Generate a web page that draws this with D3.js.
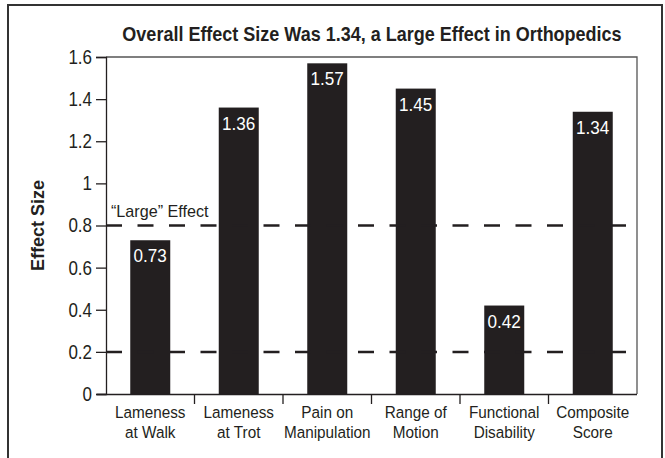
<!DOCTYPE html>
<html>
<head>
<meta charset="utf-8">
<script src="https://cdn.jsdelivr.net/npm/d3@7"></script>
<style>
  body { margin: 0; background: #fff; }
  #chart { width: 665px; height: 458px; }
  text { font-family: "Liberation Sans", Arial, sans-serif; fill: #231f20; }
</style>
</head>
<body>
<div id="chart"></div>
<script>
// chart values
const categories = ["Lameness\nat Walk", "Lameness\nat Trot", "Pain on\nManipulation", "Range of\nMotion", "Functional\nDisability", "Composite\nScore"];
const effectSizes = [0.73, 1.36, 1.57, 1.45, 0.42, 1.34];
const yTicks = [0, 0.2, 0.4, 0.6, 0.8, 1, 1.2, 1.4, 1.6];
const refLines = [0.8, 0.2];

const width = 665;
const height = 458;
const margin = { top: 57, left: 106, right: 28, bottom: 64 };
const ink = "#231f20";

// squeeze text horizontally around its anchor point (no condensed font installed)
function condense(sel, k) {
  sel.attr("transform", function() {
    const x = +d3.select(this).attr("x") || 0;
    const prev = d3.select(this).attr("transform") || "";
    return `${prev} translate(${x * (1 - k)},0) scale(${k},1)`;
  });
}

const svg = d3.select("#chart")
  .append("svg")
  .attr("width", width)
  .attr("height", height);

// outer frame
svg.append("rect")
  .attr("x", 8)
  .attr("y", 5)
  .attr("width", 654)
  .attr("height", 456)
  .attr("fill", "none")
  .attr("stroke", "#333")
  .attr("stroke-width", 2);

const xScale = d3.scaleBand()
  .domain(categories)
  .range([margin.left, width - margin.right])
  .paddingInner(0.548)
  .paddingOuter(0.274);

const yScale = d3.scaleLinear()
  .domain([0, 1.6])
  .range([height - margin.bottom, margin.top]);

// plot box top and right edges
svg.append("path")
  .attr("d", `M${margin.left},${margin.top}H${width - margin.right}V${height - margin.bottom}`)
  .attr("fill", "none")
  .attr("stroke", "#555")
  .attr("stroke-width", 1.3);

// bars
svg.selectAll("rect.bar")
  .data(effectSizes)
  .enter()
  .append("rect")
  .attr("class", "bar")
  .attr("x", function(d, i) {
    return xScale(categories[i]);
  })
  .attr("y", function(d) {
    return yScale(d);
  })
  .attr("width", xScale.bandwidth())
  .attr("height", function(d) {
    return yScale(0) - yScale(d);
  })
  .attr("fill", ink);

// dashed reference lines
svg.selectAll("line.ref")
  .data(refLines)
  .enter()
  .append("line")
  .attr("class", "ref")
  .attr("x1", margin.left)
  .attr("x2", width - margin.right)
  .attr("y1", function(d) { return yScale(d); })
  .attr("y2", function(d) { return yScale(d); })
  .attr("stroke", ink)
  .attr("stroke-width", 2.5)
  .attr("stroke-dasharray", "16,15.5");

svg.append("text")
  .attr("x", margin.left + 5)
  .attr("y", yScale(0.8) - 8)
  .attr("font-size", 17)
  .text("\u201cLarge\u201d Effect")
  .call(condense, 0.95);

// value labels
svg.selectAll("text.value")
  .data(effectSizes)
  .enter()
  .append("text")
  .attr("class", "value")
  .attr("x", function(d, i) {
    return xScale(categories[i]) + xScale.bandwidth() / 2;
  })
  .attr("y", function(d) {
    return yScale(d) + 22;
  })
  .attr("text-anchor", "middle")
  .attr("font-size", 19)
  .style("fill", "#fff")
  .text(function(d) { return d.toFixed(2); })
  .call(condense, 0.9);

// axes
const xAxis = svg.append("g")
  .attr("transform", `translate(0,${height - margin.bottom})`)
  .call(d3.axisBottom(xScale).tickSize(0).tickFormat(""));

xAxis.select(".domain")
  .attr("d", `M${margin.left - 9},0.5H${width - margin.right}`)
  .attr("stroke", ink)
  .attr("stroke-width", 1.3);

// category boundary ticks
const step = xScale.step();
xAxis.selectAll("line.sep")
  .data(categories.slice(1))
  .enter()
  .append("line")
  .attr("class", "sep")
  .attr("x1", function(d) { return xScale(d) - xScale.paddingInner() * step / 2; })
  .attr("x2", function(d) { return xScale(d) - xScale.paddingInner() * step / 2; })
  .attr("y1", 0)
  .attr("y2", 10)
  .attr("stroke", ink)
  .attr("stroke-width", 1.3);

xAxis.selectAll("text.cat")
  .data(categories)
  .enter()
  .append("text")
  .attr("class", "cat")
  .attr("x", function(d) { return xScale(d) + xScale.bandwidth() / 2; })
  .attr("y", 24)
  .attr("text-anchor", "middle")
  .attr("font-size", 17)
  .each(function(d) {
    const lines = d.split("\n");
    d3.select(this).selectAll("tspan")
      .data(lines)
      .enter()
      .append("tspan")
      .attr("x", d3.select(this).attr("x"))
      .attr("dy", function(l, j) { return j === 0 ? 0 : 20; })
      .text(function(l) { return l; });
  })
  .call(condense, 0.9);

const yAxis = svg.append("g")
  .attr("transform", `translate(${margin.left},0)`)
  .attr("font-family", null)
  .call(d3.axisLeft(yScale).tickValues(yTicks).tickFormat(d3.format("~g")).tickSize(10).tickPadding(4));

yAxis.attr("font-family", null);
yAxis.select(".domain").attr("stroke", ink).attr("stroke-width", 1.3);
yAxis.selectAll(".tick line").attr("stroke", ink).attr("stroke-width", 1.3);
yAxis.selectAll(".tick text")
  .attr("font-size", 20)
  .style("fill", ink)
  .call(condense, 0.85);

// axis title
svg.append("text")
  .attr("transform", `translate(44,${(margin.top + height - margin.bottom) / 2}) rotate(-90)`)
  .attr("text-anchor", "middle")
  .attr("font-size", 19)
  .attr("font-weight", "bold")
  .text("Effect Size")
  .call(condense, 0.95);

// chart title
svg.append("text")
  .attr("x", 372)
  .attr("y", 41)
  .attr("text-anchor", "middle")
  .attr("font-size", 20)
  .attr("font-weight", "bold")
  .text("Overall Effect Size Was 1.34, a Large Effect in Orthopedics")
  .call(condense, 0.9);
</script>
</body>
</html>
